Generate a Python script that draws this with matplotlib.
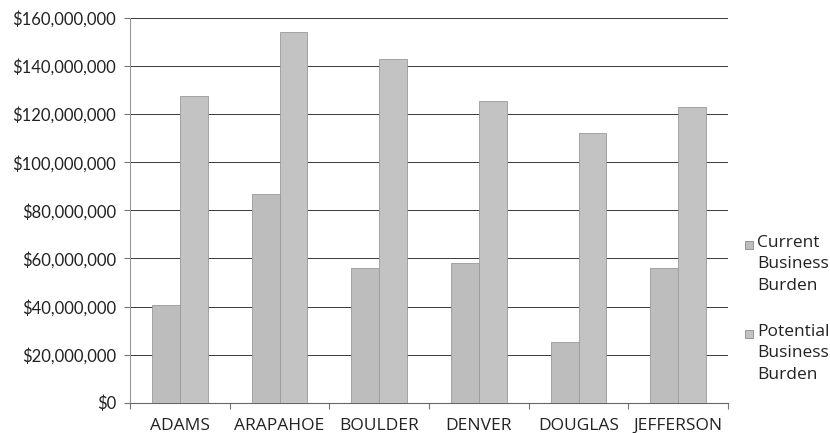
import matplotlib
matplotlib.use("Agg")
import matplotlib.pyplot as plt
import numpy as np
from matplotlib.ticker import FuncFormatter, MultipleLocator
from matplotlib.patches import Rectangle

categories = ["ADAMS", "ARAPAHOE", "BOULDER", "DENVER", "DOUGLAS", "JEFFERSON"]
current = [40.5e6, 86.8e6, 55.9e6, 58.2e6, 25.2e6, 55.9e6]
potential = [127.4e6, 154.1e6, 142.8e6, 125.5e6, 112.2e6, 123.0e6]
series_labels = ["Current\nBusiness\nBurden", "Potential\nBusiness\nBurden"]
series_colors = ["#bdbdbd", "#c3c3c3"]

W, H = 830, 433
fig = plt.figure(figsize=(W/100, H/100), dpi=100)
ax = fig.add_axes([130/W, 1 - 402.7/H, (728-130)/W, (402.7-18)/H])

x = np.arange(len(categories))
w = 0.28
ax.bar(x - w/2, current, w, color=series_colors[0], edgecolor="#9a9a9a", linewidth=0.6, zorder=3)
ax.bar(x + w/2, potential, w, color=series_colors[1], edgecolor="#9a9a9a", linewidth=0.6, zorder=3)

ax.set_xlim(-0.5, len(categories) - 0.5)
ax.set_ylim(0, 160e6)
ax.yaxis.set_major_locator(MultipleLocator(20e6))
ax.yaxis.set_major_formatter(FuncFormatter(lambda v, p: "${:,.0f}".format(v)))
ax.grid(axis="y", color="#3a3a3a", linewidth=0.7, zorder=0)
ax.set_axisbelow(True)

ax.set_xticks(np.arange(len(categories) + 1) - 0.5, minor=False)
ax.set_xticklabels([])
ax.set_xticks(x, minor=True)
ax.set_xticklabels(categories, minor=True, fontsize=12.5, family="Open Sans", color="#222222")
ax.tick_params(axis="x", which="minor", length=0, pad=11)
ax.tick_params(axis="x", which="major", length=4, color="#777777", direction="out")
ax.tick_params(axis="y", length=4, color="#777777", labelsize=12, pad=6)
for lbl in ax.get_yticklabels():
    lbl.set_family("Lato")
    lbl.set_color("#222222")

for s in ["top", "right"]:
    ax.spines[s].set_visible(False)
ax.spines["left"].set_color("#999999")
ax.spines["left"].set_linewidth(0.8)
ax.spines["bottom"].set_color("#666666")
ax.spines["bottom"].set_linewidth(0.8)

# legend (manual, marker aligned with first line as in the reference)
tops = [235, 324]
for lab, col, top in zip(series_labels, series_colors, tops):
    fig.text(757/W, 1 - top/H, lab, ha="left", va="top", fontsize=12.5,
             family="Open Sans", color="#222222", linespacing=1.45)
    fig.patches.append(Rectangle((745/W, 1 - (top + 14)/H), 8/W, 8/H,
                                 transform=fig.transFigure, facecolor=col,
                                 edgecolor="#8a8a8a", linewidth=0.6))

fig.savefig("out.png", dpi=100)
